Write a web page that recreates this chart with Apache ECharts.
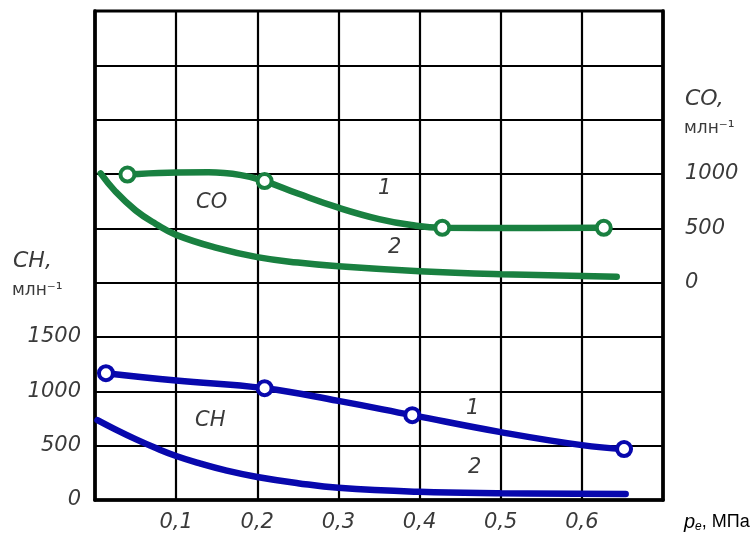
<!DOCTYPE html>
<html>
<head>
<meta charset="utf-8">
<script src="https://cdn.jsdelivr.net/npm/echarts@6/dist/echarts.min.js"></script>
<style>html,body{margin:0;padding:0;background:#fff;}#c{width:753px;height:543px;}</style>
</head>
<body>
<div id="c"></div>
<script>
// Data (x = p_e, MPa)
var xTicks = ['0,1', '0,2', '0,3', '0,4', '0,5', '0,6'];
var chTickLabels = ['0', '500', '1000', '1500'];
var coTickLabels = ['0', '500', '1000'];

var co1Curve = [[0.04, 995], [0.09, 1012], [0.14, 1015], [0.18, 990], [0.209, 935], [0.25, 820], [0.3, 690], [0.35, 585], [0.39, 530], [0.428, 505], [0.52, 502], [0.627, 505]];
var co1Marks = [[0.04, 995], [0.209, 935], [0.428, 505], [0.627, 505]];
var co2Curve = [[0.007, 1005], [0.025, 840], [0.05, 665], [0.075, 540], [0.1, 440], [0.15, 320], [0.2, 235], [0.25, 185], [0.3, 150], [0.4, 105], [0.5, 78], [0.643, 55]];

var ch1Curve = [[0.0135, 1167], [0.1, 1100], [0.209, 1029], [0.3, 912], [0.391, 781], [0.5, 625], [0.6, 505], [0.652, 469]];
var ch1Marks = [[0.0135, 1167], [0.209, 1029], [0.391, 781], [0.652, 469]];
var ch2Curve = [[0.003, 735], [0.025, 650], [0.05, 560], [0.075, 478], [0.1, 405], [0.13, 335], [0.16, 275], [0.2, 212], [0.25, 155], [0.3, 112], [0.4, 75], [0.5, 62], [0.654, 55]];

var GREEN = '#198040';
var BLUE = '#0808ad';
var FONT = 'DejaVu Sans, Verdana, sans-serif';
var FONT2 = 'Liberation Sans, Arial, sans-serif';
var TXT = '#3a3a3a';

var chart = echarts.init(document.getElementById('c'), null, {renderer: 'canvas'});

function lineSeries(data, color, yIdx) {
  return {type: 'line', data: data, yAxisIndex: yIdx, smooth: 0.45, showSymbol: false, symbol: 'none',
    lineStyle: {color: color, width: 6.5, cap: 'round'}, z: 3, silent: true};
}
function markSeries(data, color, yIdx) {
  return {type: 'scatter', data: data, yAxisIndex: yIdx, symbol: 'circle', symbolSize: 14,
    itemStyle: {color: '#fff', borderColor: color, borderWidth: 4, opacity: 1}, z: 4, silent: true};
}

var option = {
  animation: false,
  backgroundColor: '#fff',
  grid: {left: 95, right: 90, top: 11, bottom: 43, show: true, borderColor: '#000', borderWidth: 3, backgroundColor: 'transparent'},
  xAxis: {
    type: 'value', min: 0, max: 0.7, interval: 0.1,
    axisLine: {show: true, lineStyle: {color: '#000', width: 3.5}},
    axisTick: {show: false},
    splitLine: {show: true, lineStyle: {color: '#000', width: 2.2}},
    axisLabel: {
      margin: 12, color: TXT, fontSize: 21, fontStyle: 'italic', fontFamily: FONT,
      formatter: function (v) {
        var i = Math.round(v * 10);
        return (i >= 1 && i <= xTicks.length) ? xTicks[i - 1] : '';
      }
    }
  },
  yAxis: [
    {
      type: 'value', min: 0, max: 4500, interval: 500, position: 'left',
      axisLine: {show: true, lineStyle: {color: '#000', width: 3.5}},
      axisTick: {show: false},
      splitLine: {show: true, lineStyle: {color: '#000', width: 2.2}},
      axisLabel: {
        margin: 14, color: TXT, fontSize: 21, fontStyle: 'italic', fontFamily: FONT,
        formatter: function (v) {
          var i = Math.round(v / 500);
          return i < chTickLabels.length ? chTickLabels[i] : '';
        }
      }
    },
    {
      type: 'value', min: -2000, max: 2500, interval: 500, position: 'right',
      axisLine: {show: true, lineStyle: {color: '#000', width: 3.5}},
      axisTick: {show: false},
      splitLine: {show: false},
      axisLabel: {
        margin: 22, color: TXT, fontSize: 21, fontStyle: 'italic', fontFamily: FONT,
        formatter: function (v) {
          var i = Math.round(v / 500);
          return (i >= 0 && i < coTickLabels.length) ? coTickLabels[i] : '';
        }
      }
    }
  ],
  series: [
    lineSeries(co1Curve, GREEN, 1),
    lineSeries(co2Curve, GREEN, 1),
    markSeries(co1Marks, GREEN, 1),
    lineSeries(ch1Curve, BLUE, 0),
    lineSeries(ch2Curve, BLUE, 0),
    markSeries(ch1Marks, BLUE, 0)
  ],
  graphic: [
    {type: 'text', left: 13, top: 250, style: {text: 'CH,', fontSize: 22, fontStyle: 'italic', fontFamily: FONT, fill: TXT}},
    {type: 'text', left: 12, top: 282, style: {text: 'млн⁻¹', fontSize: 17, fontFamily: FONT, fill: TXT}},
    {type: 'text', left: 685, top: 88, style: {text: 'CO,', fontSize: 22, fontStyle: 'italic', fontFamily: FONT, fill: TXT}},
    {type: 'text', left: 684, top: 120, style: {text: 'млн⁻¹', fontSize: 17, fontFamily: FONT, fill: TXT}},
    {type: 'text', left: 684, top: 512, style: {
      text: '{p|p}{e|e}{n|, МПа}',
      rich: {
        p: {fontSize: 20, fontStyle: 'italic', fontFamily: FONT2, color: TXT},
        e: {fontSize: 12, fontStyle: 'italic', fontFamily: FONT2, color: TXT, padding: [10, 0, 0, 0]},
        n: {fontSize: 18, fontFamily: FONT2, color: TXT}
      }
    }},
    {type: 'text', left: 196, top: 192, z: 10, style: {text: 'CO', fontSize: 21, fontStyle: 'italic', fontFamily: FONT, fill: TXT}},
    {type: 'text', left: 378, top: 178, z: 10, style: {text: '1', fontSize: 21, fontStyle: 'italic', fontFamily: FONT, fill: TXT}},
    {type: 'text', left: 388, top: 237, z: 10, style: {text: '2', fontSize: 21, fontStyle: 'italic', fontFamily: FONT, fill: TXT}},
    {type: 'text', left: 195, top: 410, z: 10, style: {text: 'CH', fontSize: 21, fontStyle: 'italic', fontFamily: FONT, fill: TXT}},
    {type: 'text', left: 466, top: 398, z: 10, style: {text: '1', fontSize: 21, fontStyle: 'italic', fontFamily: FONT, fill: TXT}},
    {type: 'text', left: 468, top: 457, z: 10, style: {text: '2', fontSize: 21, fontStyle: 'italic', fontFamily: FONT, fill: TXT}}
  ]
};
chart.setOption(option);
</script>
</body>
</html>
